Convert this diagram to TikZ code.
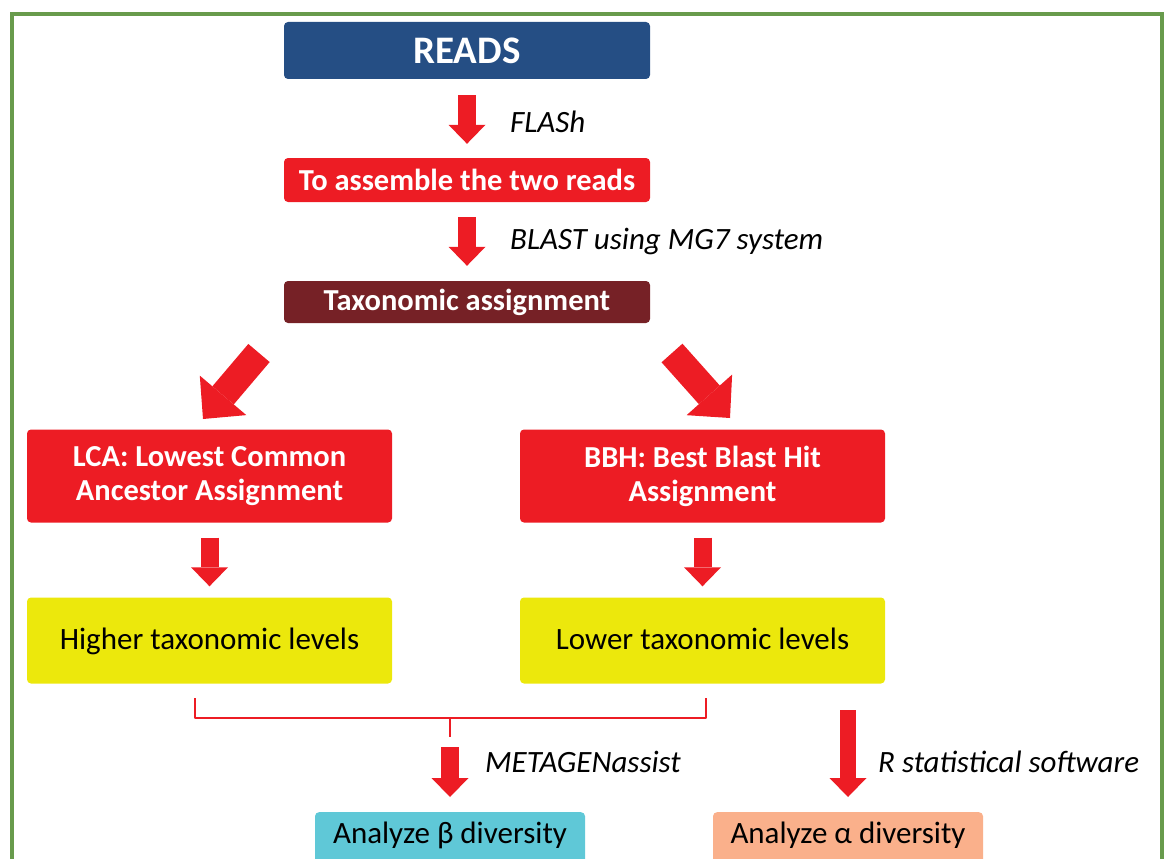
\documentclass[tikz,border=0pt]{standalone}
\usepackage{fontspec}
\setmainfont{Carlito}
\usetikzlibrary{arrows.meta}
\definecolor{frameg}{RGB}{104,155,76}
\definecolor{rblue}{RGB}{37,78,132}
\definecolor{rred}{RGB}{237,28,36}
\definecolor{rdark}{RGB}{118,33,38}
\definecolor{ryel}{RGB}{236,232,12}
\definecolor{rcyan}{RGB}{95,200,215}
\definecolor{rsalm}{RGB}{250,176,139}
\tikzset{
  box/.style={rounded corners=4pt, inner sep=0pt, align=center, text=white},
  sz/.style={font=\fontsize{30.5}{34}\selectfont\bfseries},
  rg/.style={font=\fontsize{31}{34}\selectfont, text height=23pt, text depth=5pt},
  blk/.style={draw=rred, line width=18pt,
     -{Triangle[width=37pt,length=19pt,line width=0pt]}},
  diag/.style={draw=rred, line width=28pt,
     -{Triangle[width=61pt,length=31pt,line width=0pt]}},
  lbl/.style={anchor=west, inner sep=0pt, font=\fontsize{31}{34}\selectfont\itshape},
  brk/.style={draw=rred, line width=1.6pt, line join=round}
}
\begin{document}
\begin{tikzpicture}[x=1pt,y=-1pt]
\useasboundingbox (0,0) rectangle (1165,859);
\clip (0,0) rectangle (1165,859);
\draw[frameg, line width=4pt] (12,14) rectangle (1162,920);
% boxes
\node[box, fill=rblue, minimum width=366pt, minimum height=57pt,
  font=\fontsize{39}{44}\selectfont\bfseries] (reads) at (467,50.5) {READS};
\node[box, sz, fill=rred, minimum width=366pt, minimum height=44pt] (asm) at (467,180) {To assemble the two reads};
\node[box, sz, fill=rdark, minimum width=366pt, minimum height=42pt] (tax) at (467,302) {Taxonomic assignment};
\node[box, sz, fill=rred, minimum width=365pt, minimum height=93pt] (lca) at (209.5,476) {LCA: Lowest Common\\Ancestor Assignment};
\node[box, sz, fill=rred, minimum width=365pt, minimum height=93pt] (bbh) at (702.5,476) {BBH: Best Blast Hit\\Assignment};
\node[box, rg, fill=ryel, text=black, minimum width=365pt, minimum height=86pt] (hi) at (209.5,640.5) {Higher taxonomic levels};
\node[box, rg, fill=ryel, text=black, minimum width=365pt, minimum height=86pt] (lo) at (702.5,640.5) {Lower taxonomic levels};
\node[box, fill=rcyan, minimum width=270pt, minimum height=70pt, anchor=north] (beta) at (450,812) {};
\node[rg, text=black] (betat) at (450,834) {Analyze β diversity};
\node[box, fill=rsalm, minimum width=270pt, minimum height=70pt, anchor=north] (alpha) at (848,812) {};
\node[rg, text=black] (alphat) at (848,834) {Analyze α diversity};
% vertical arrows
\draw[blk, shorten <=16pt, shorten >=14pt] (reads.south) -- (asm.north);
\draw[blk, shorten <=15pt, shorten >=15pt] (asm.south) -- (tax.north);
\draw[blk, shorten <=15pt, shorten >=11pt] (lca.south) -- (hi.north);
\draw[blk, shorten <=15pt, shorten >=11pt] (bbh.south) -- (lo.north);
% diagonal arrows
\coordinate (dl1) at (259,353);
\coordinate (dl2) at (203,419);
\coordinate (dr1) at (672,353);
\coordinate (dr2) at (730,418);
\draw[diag] (dl1) -- (dl2);
\draw[diag] (dr1) -- (dr2);
% bracket
\coordinate (bl) at (195,698);
\coordinate (bl2) at (195,718);
\coordinate (br2) at (706,718);
\coordinate (br) at (706,698);
\coordinate (bm1) at (450,718);
\coordinate (bm) at (450,737);
\draw[brk] (bl) -- (bl2) -- (br2) -- (br);
\draw[brk] (bm1) -- (bm);
% bottom arrows
\coordinate (ma) at (450,747);
\coordinate (ra) at (848,710);
\draw[blk, shorten >=15pt] (ma) -- (beta.north);
\draw[blk, line width=16pt, shorten >=15pt] (ra) -- (alpha.north);
% labels
\node[lbl] (l1) at (510,122) {FLASh};
\node[lbl] (l2) at (510,241) {BLAST using MG7 system};
\node[lbl] (l3) at (485,762) {METAGENassist};
\node[lbl] (l4) at (878,762) {R statistical software};
\end{tikzpicture}
\end{document}
